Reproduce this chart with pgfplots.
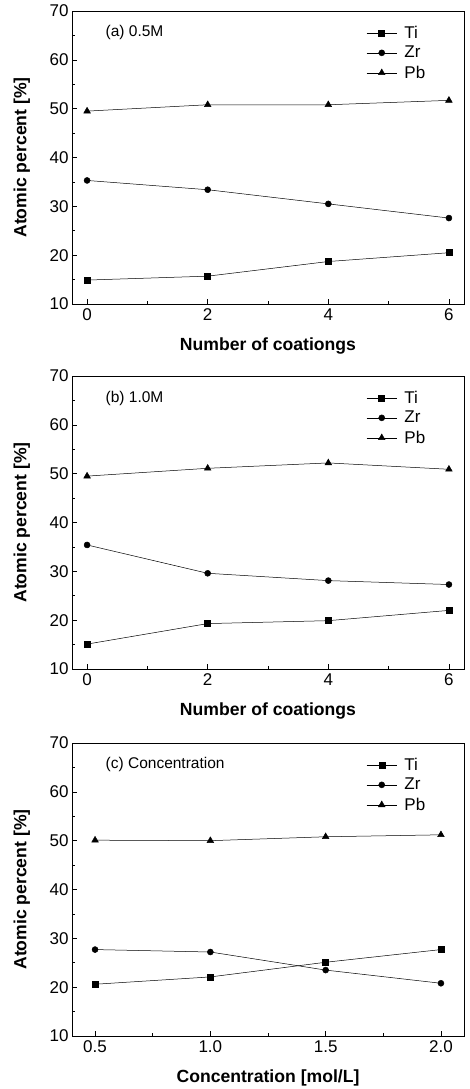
\documentclass[border=0pt]{standalone}
\usepackage{pgfplots}
\pgfplotsset{compat=1.18}
\usepackage{fontspec}
\setmainfont{Liberation Sans}

\pgfplotsset{
  panel/.style={
    scale only axis, width=392pt, height=293pt, anchor=north west,
    ymin=10, ymax=70, ytick={10,20,...,70},
    minor y tick num=1, minor x tick num=1,
    axis line style={line width=0.8pt},
    tick align=inside, xtick pos=bottom, ytick pos=left,
    major tick length=5pt, minor tick length=3pt,
    every tick/.style={line width=0.6pt, black},
    /pgf/number format/assume math mode=true,
    tick label style={font=\fontsize{17}{19}\selectfont},
    xticklabel style={yshift=-1pt},
    label style={font=\bfseries\fontsize{17.6}{20}\selectfont},
    ylabel={Atomic percent [\%]},
    ylabel style={at={(axis description cs:-0.128,0.5)}, anchor=center},
    xlabel style={at={(axis description cs:0.5,-0.143)}, anchor=center},
    legend style={at={(axis description cs:0.748,0.96)}, anchor=north west,
      draw=none, fill=none, font=\fontsize{17}{19}\selectfont,
      row sep=2.5pt, inner sep=1pt},
    legend cell align=left,
    legend image code/.code={\draw[mark repeat=2,mark phase=2]
      plot coordinates {(0cm,0cm) (0.53cm,0cm) (1.06cm,0cm)};
      \path (1.25cm,0cm);},
  },
  ti/.style={black, line width=0.5pt, mark=square*, mark size=3pt},
  zr/.style={black, line width=0.5pt, mark=*, mark size=3pt},
  pb/.style={black, line width=0.5pt, mark=triangle*, mark size=3.8pt},
}

\begin{document}
\begin{tikzpicture}
\useasboundingbox (0,0) rectangle (469pt,-1089pt);

% (a)
\begin{axis}[panel, at={(72pt,-11pt)},
  xmin=-0.25, xmax=6.25, xtick={0,2,4,6},
  xlabel={Number of coationgs}]
\addplot[ti] coordinates {(0,14.9) (2,15.7) (4,18.7) (6,20.5)};
\addplot[zr] coordinates {(0,35.3) (2,33.4) (4,30.5) (6,27.6)};
\addplot[pb] coordinates {(0,49.5) (2,50.8) (4,50.8) (6,51.7)};
\legend{Ti,Zr,Pb}
\node[anchor=west, font=\fontsize{15.5}{17}\selectfont] at (axis description cs:0.077,0.925) {(a) 0.5M};
\end{axis}

% (b)
\begin{axis}[panel, at={(72pt,-376pt)},
  xmin=-0.25, xmax=6.25, xtick={0,2,4,6},
  xlabel={Number of coationgs}]
\addplot[ti] coordinates {(0,15.1) (2,19.3) (4,19.9) (6,22.0)};
\addplot[zr] coordinates {(0,35.4) (2,29.6) (4,28.1) (6,27.3)};
\addplot[pb] coordinates {(0,49.5) (2,51.1) (4,52.2) (6,50.9)};
\legend{Ti,Zr,Pb}
\node[anchor=west, font=\fontsize{15.5}{17}\selectfont] at (axis description cs:0.077,0.922) {(b) 1.0M};
\end{axis}

% (c)
\begin{axis}[panel, at={(72pt,-743pt)},
  xmin=0.4, xmax=2.1, xtick={0.5,1.0,1.5,2.0},
  xticklabel style={/pgf/number format/.cd, fixed, fixed zerofill, precision=1},
  xlabel={Concentration [mol/L]}]
\addplot[ti] coordinates {(0.5,20.6) (1.0,22.1) (1.5,25.1) (2.0,27.7)};
\addplot[zr] coordinates {(0.5,27.7) (1.0,27.2) (1.5,23.5) (2.0,20.8)};
\addplot[pb] coordinates {(0.5,50.1) (1.0,50.0) (1.5,50.8) (2.0,51.2)};
\legend{Ti,Zr,Pb}
\node[anchor=west, font=\fontsize{15.5}{17}\selectfont] at (axis description cs:0.077,0.925) {(c) Concentration};
\end{axis}
\end{tikzpicture}
\end{document}
